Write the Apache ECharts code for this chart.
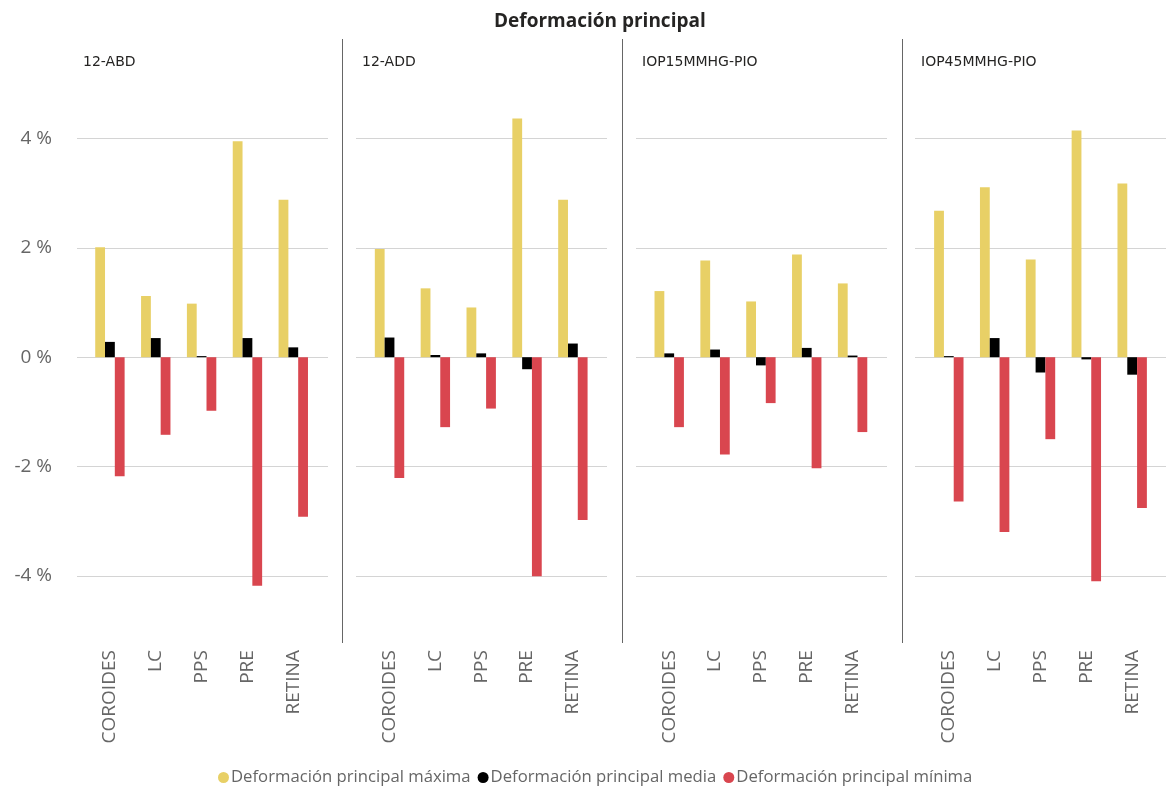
<!DOCTYPE html>
<html>
<head>
<meta charset="utf-8">
<style>
  html, body { margin: 0; padding: 0; background: #fff; }
  #chart { width: 1166px; height: 789px; }
</style>
<script src="https://cdn.jsdelivr.net/npm/echarts@6/dist/echarts.min.js"></script>
</head>
<body>
<div id="chart"></div>
<script>
// Layers of the eye and the simulated cases (one small multiple per case)
const categories = ['COROIDES', 'LC', 'PPS', 'PRE', 'RETINA'];
const panels = ['12-ABD', '12-ADD', 'IOP15MMHG-PIO', 'IOP45MMHG-PIO'];
const seriesNames = [
  'Deformación principal máxima',
  'Deformación principal media',
  'Deformación principal mínima'
];
const yTicks = [-4, -2, 0, 2, 4];

// Strain in %, one row per case, one column per layer
const maxima = [
  [2.01, 1.12, 0.98, 3.95, 2.88],
  [1.98, 1.26, 0.91, 4.37, 2.88],
  [1.21, 1.77, 1.02, 1.88, 1.35],
  [2.68, 3.11, 1.79, 4.15, 3.18]
];
const media = [
  [0.28, 0.35, 0.02, 0.35, 0.18],
  [0.36, 0.04, 0.07, -0.22, 0.25],
  [0.07, 0.14, -0.15, 0.17, 0.03],
  [0.02, 0.35, -0.28, -0.04, -0.32]
];
const minima = [
  [-2.18, -1.42, -0.98, -4.18, -2.92],
  [-2.21, -1.28, -0.94, -4.01, -2.98],
  [-1.28, -1.78, -0.84, -2.03, -1.37],
  [-2.64, -3.20, -1.50, -4.10, -2.76]
];

const colors = ['#E8D066', '#000000', '#D9464F'];
const font = '"Open Sans", "Noto Sans", sans-serif';

const plotTop = 29.3, plotHeight = 655.8;
const gridLeft = [77, 356, 636, 915];
const gridWidth = 251;
const barLeft = [87, 366.6, 646.3, 925.9];
const barWidthArea = 229.2;

const grids = [], xAxes = [], yAxes = [], series = [], graphics = [];

// gridline layers (wider than the category band)
panels.forEach((name, p) => {
  grids.push({ left: gridLeft[p], top: plotTop, width: gridWidth, height: plotHeight });
  xAxes.push({ type: 'value', gridIndex: p, min: 0, max: 1, show: false });
  yAxes.push({
    type: 'value', gridIndex: p, min: -6, max: 6, interval: 2,
    axisLine: { show: false }, axisTick: { show: false },
    splitLine: { show: true, showMinLine: false, showMaxLine: false,
                 lineStyle: { color: '#D4D4D4', width: 1 } },
    axisLabel: {
      show: p === 0, margin: 25, fontFamily: font, fontSize: 19, color: '#666666',
      formatter: v => (yTicks.indexOf(v) >= 0 ? v + ' %' : '')
    }
  });
});

// bar layers
panels.forEach((name, p) => {
  const gi = panels.length + p;
  grids.push({ left: barLeft[p], top: plotTop, width: barWidthArea, height: plotHeight });
  xAxes.push({
    type: 'category', gridIndex: gi, data: categories, offset: -43,
    axisLine: { show: false }, axisTick: { show: false },
    axisLabel: { rotate: 90, margin: 8, interval: 0, fontFamily: font, fontSize: 19, color: '#666666' }
  });
  yAxes.push({ type: 'value', gridIndex: gi, min: -6, max: 6, interval: 2, show: false,
               splitLine: { show: false } });
  [maxima, media, minima].forEach((vals, s) => {
    series.push({
      name: seriesNames[s], type: 'bar', xAxisIndex: gi, yAxisIndex: gi,
      data: vals[p], barWidth: 9.8, barGap: '0%',
      itemStyle: { color: colors[s] }, silent: true
    });
  });
  graphics.push({
    type: 'text', left: gridLeft[p] + 6, top: 55,
    style: { text: name, fontFamily: '"DejaVu Sans", sans-serif', fontSize: 14, fill: '#252423' }
  });
});

// separators between the small multiples
[342, 622, 902].forEach(x => {
  graphics.push({
    type: 'line', shape: { x1: x + 0.5, y1: 39, x2: x + 0.5, y2: 643 },
    style: { stroke: '#666666', lineWidth: 1 }
  });
});

const chart = echarts.init(document.getElementById('chart'), null, { renderer: 'canvas' });
chart.setOption({
  animation: false,
  backgroundColor: '#ffffff',
  title: {
    text: 'Deformación principal', left: 489, top: 7,
    textStyle: { fontFamily: font, fontSize: 19, fontWeight: 'bold', color: '#252423' }
  },
  legend: {
    data: seriesNames, top: 764, left: 213, icon: 'circle',
    itemWidth: 11, itemHeight: 11, itemGap: 7,
    textStyle: { fontFamily: font, fontSize: 16.7, color: '#666666', padding: [0, 0, 0, -3] }
  },
  grid: grids,
  xAxis: xAxes,
  yAxis: yAxes,
  series: series,
  graphic: graphics
});
</script>
</body>
</html>
